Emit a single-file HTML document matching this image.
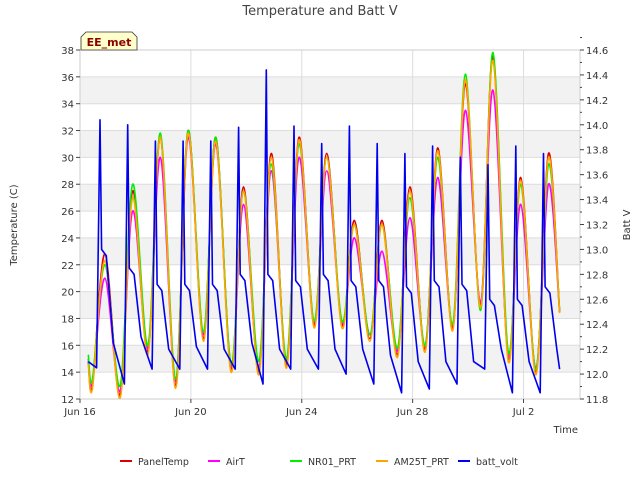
<!DOCTYPE html>
<html><head><meta charset="utf-8"><style>
body{margin:0;background:#fff;font-family:"DejaVu Sans","Liberation Sans",sans-serif;}
svg text{font-family:"DejaVu Sans","Liberation Sans",sans-serif;}
</style></head><body>
<svg id="c" width="640" height="480" xmlns="http://www.w3.org/2000/svg">
<text x="320" y="15" text-anchor="middle" font-size="13" fill="#444">Temperature and Batt V</text>
<text transform="translate(17,225) rotate(-90)" text-anchor="middle" font-size="10" fill="#333">Temperature (C)</text>
<text transform="translate(630,225) rotate(-90)" text-anchor="middle" font-size="10" fill="#333">Batt V</text>
<text x="578" y="433" text-anchor="end" font-size="10" fill="#333">Time</text>
<g id="bands"></g><g id="grid"></g><g id="axes"></g><g id="series"></g>
<g>
<path d="M81,50 L81,37 L86,32 L132,32 L137,37 L137,50 Z" fill="#ffffcc" stroke="#333" stroke-width="0.8"/>
<text x="109" y="46" text-anchor="middle" font-size="11" font-weight="bold" fill="#8b0000">EE_met</text></g>
<g id="legend"></g>
</svg>
<script>
const xTicks=["Jun 16","Jun 20","Jun 24","Jun 28","Jul 2"];
const xTickDays=[0,4,8,12,16];
const yTicks=[12,14,16,18,20,22,24,26,28,30,32,34,36,38];
const y2Ticks=[11.8,12.0,12.2,12.4,12.6,12.8,13.0,13.2,13.4,13.6,13.8,14.0,14.2,14.4,14.6];
const panelMax=[22.8,27.5,31.5,32,31.5,27.8,30.3,31.5,30.3,25.3,25.3,27.8,30.7,35.5,37.5,28.5,30.3];
const panelMin=[13,12.3,15.5,13,16.5,14.2,14,14.5,17.5,17.5,16.5,15.3,15.7,17.3,19,15,14,18.5];
const airMax=[21,26,30,31.5,31,26.5,29,30,29,24,23,25.5,28.5,33.5,35,26.5,28];
const airMin=[13.2,12.6,15.8,13.3,16.8,14.5,14.3,14.8,17.7,17.7,16.8,15.6,16,17.5,19.2,15.3,14.3,18.5];
const nrMax=[22,28,31.8,32,31.5,27.5,29.5,31,30,25,25,27,30,36.2,37.8,28,29.5];
const nrMin=[13.5,13,16,13.5,17,14.6,14.8,15,17.8,17.8,16.8,15.8,16,17.6,18.6,15.5,14.2,18.6];
const amMax=[22.3,27,31.5,31.8,31.2,27.5,30,31.3,30,25,25,27.5,30.5,35.8,37.2,28.3,30];
const amMin=[12.8,12.1,15.3,12.8,16.3,14,13.8,14.3,17.3,17.3,16.3,15.1,15.5,17.1,18.8,14.8,13.8,18.4];
const voltMin=[12.05,11.92,12.04,12.04,12.04,12.04,11.92,12.04,12.04,12.0,11.92,11.85,11.88,11.92,12.04,11.85,11.85,12.04];
const voltPeak=[14.04,14.0,13.87,13.87,13.87,13.98,14.44,13.99,13.85,13.99,13.85,13.77,13.83,13.74,13.68,13.83,13.77];
const voltPlat=[13.0,12.85,12.72,12.72,12.72,12.8,12.8,12.75,12.8,12.75,12.75,12.7,12.75,12.72,12.6,12.6,12.7];
const voltNight=[12.25,12.3,12.2,12.22,12.2,12.25,12.2,12.2,12.2,12.2,12.15,12.1,12.1,12.1,12.2,12.1,12.2];

const NS="http://www.w3.org/2000/svg";
const X0=80,X1=580,Y0=399,Y1=50;
const xS=d=>80+d*27.72;
const yS=v=>Y0-(v-12)*(Y0-Y1)/26;
const y2S=v=>Y0-(v-11.8)*(Y0-Y1)/2.8;
function mk(tag,at,parent){const e=document.createElementNS(NS,tag);for(const k in at)e.setAttribute(k,at[k]);document.getElementById(parent).appendChild(e);return e;}
for(let v=14;v<38;v+=4){const r=mk('rect',{x:X0,y:yS(v+2),width:X1-X0,height:yS(v)-yS(v+2),fill:'#f2f2f2'},'bands');

}
mk('rect',{x:X0,y:Y1,width:X1-X0,height:Y0-Y1,fill:'none',stroke:'#ccc'},'axes');
yTicks.forEach(v=>{mk('line',{x1:X0,x2:X1,y1:yS(v),y2:yS(v),stroke:'#ddd'},'grid');
mk('line',{x1:X0-4,x2:X0,y1:yS(v),y2:yS(v),stroke:'#444'},'axes');
const t=mk('text',{x:X0-6,y:yS(v)+4,'text-anchor':'end','font-size':10,fill:'#333'},'axes');t.textContent=v;

});
y2Ticks.forEach((v,i)=>{mk('line',{x1:X1,x2:X1+4,y1:y2S(v),y2:y2S(v),stroke:'#444'},'axes');
mk('line',{x1:X1,x2:X1+2,y1:y2S(v+0.1),y2:y2S(v+0.1),stroke:'#444'},'axes');
const t=mk('text',{x:X1+6,y:y2S(v)+4,'font-size':10,fill:'#333'},'axes');t.textContent=v.toFixed(1);

});
xTicks.forEach((s,i)=>{const x=xS(xTickDays[i]);mk('line',{x1:x,x2:x,y1:Y1,y2:Y0,stroke:'#ddd'},'grid');
mk('line',{x1:x,x2:x,y1:Y0,y2:Y0+4,stroke:'#444'},'axes');
const t=mk('text',{x:x,y:Y0+16,'text-anchor':'middle','font-size':10,fill:'#333'},'axes');t.textContent=s;

});
function tempPts(mins,maxs){const p=[[0.3,mins[0]+1.8]];for(let k=0;k<mins.length;k++){p.push([k===mins.length-1?17.3:k+0.45,mins[k]]);if(k<maxs.length)p.push([k+0.9,maxs[k]]);}return p;}
function voltPts(){const p=[[0.3,12.1]];for(let k=0;k<voltPeak.length;k++){p.push([k+0.6,voltMin[k]],[k+0.72,voltPeak[k]],[k+0.78,voltPlat[k]],[k+0.95,voltPlat[k]-0.05],[k+1.2,voltNight[k]]);}p.push([17.3,voltMin[17]]);return p;}
function draw(pts,ys,color,name,smooth){const P=pts.map(q=>[xS(q[0]),ys(q[1])]);let d='M'+P[0][0].toFixed(1)+','+P[0][1].toFixed(1);
for(let i=1;i<P.length;i++){if(!smooth){d+='L'+P[i][0].toFixed(1)+','+P[i][1].toFixed(1);continue;}
const p0=P[Math.max(0,i-2)],p1=P[i-1],p2=P[i],p3=P[Math.min(P.length-1,i+1)];
const c1=[p1[0]+(p2[0]-p0[0])/6,p1[1]+(p2[1]-p0[1])/6],c2=[p2[0]-(p3[0]-p1[0])/6,p2[1]-(p3[1]-p1[1])/6];
d+='C'+c1[0].toFixed(1)+','+c1[1].toFixed(1)+' '+c2[0].toFixed(1)+','+c2[1].toFixed(1)+' '+p2[0].toFixed(1)+','+p2[1].toFixed(1);}
const e=mk('path',{d:d,fill:'none',stroke:color,'stroke-width':1.6,'stroke-linejoin':'round'},'series');

}
draw(tempPts(panelMin,panelMax),yS,'#dd0000','series-paneltemp',true);
draw(tempPts(airMin,airMax),yS,'#ff00ff','series-airt',true);
draw(tempPts(nrMin,nrMax),yS,'#00ee00','series-nr01-prt',true);
draw(tempPts(amMin,amMax),yS,'#ffa500','series-am25t-prt',true);
draw(voltPts(),y2S,'#0000ee','series-batt-volt',false);
const leg=[['PanelTemp','#dd0000',120],['AirT','#ff00ff',208],['NR01_PRT','#00ee00',290],['AM25T_PRT','#ffa500',376],['batt_volt','#0000ee',458]];
leg.forEach(l=>{const g=mk('g',{},'legend');


const ln=document.createElementNS(NS,'line');ln.setAttribute('x1',l[2]);ln.setAttribute('x2',l[2]+12);ln.setAttribute('y1',461);ln.setAttribute('y2',461);ln.setAttribute('stroke',l[1]);ln.setAttribute('stroke-width',2);g.appendChild(ln);
const t=document.createElementNS(NS,'text');t.setAttribute('x',l[2]+18);t.setAttribute('y',465);t.setAttribute('font-size',9.5);t.setAttribute('fill','#333');t.textContent=l[0];g.appendChild(t);});
</script>
</body></html>
